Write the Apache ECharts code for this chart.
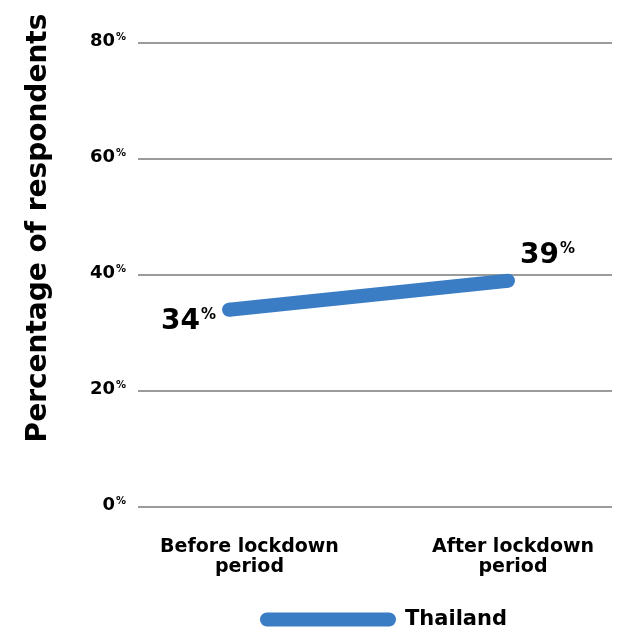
<!DOCTYPE html>
<html><head><meta charset="utf-8">
<script src="https://cdn.jsdelivr.net/npm/echarts@6/dist/echarts.min.js"></script>
<style>html,body{margin:0;padding:0;background:#fff}#c{width:618px;height:635px}</style>
</head><body><div id="c"></div>
<script>
const categories = ['Before lockdown\nperiod', 'After lockdown\nperiod'];
const seriesName = 'Thailand';
const values = [34, 39];
const yTicks = [0, 20, 40, 60, 80];
const yTitle = 'Percentage of respondents';

const FONT = '"DejaVu Sans", sans-serif';
const BLUE = '#3a7dc4';
const chart = echarts.init(document.getElementById('c'), null, {renderer: 'canvas'});
chart.setOption({
  animation: false,
  grid: {left: 138, right: 6, top: 43, bottom: 128, containLabel: false},
  xAxis: [
    {type: 'value', min: -0.3262, max: 1.3728, show: false},
    {type: 'value', min: -0.4231, max: 1.3757, position: 'bottom',
     axisLine: {show: false}, axisTick: {show: false}, splitLine: {show: false},
     axisLabel: {customValues: [0, 1], formatter: v => categories[Math.round(v)],
       fontFamily: FONT, fontWeight: 'bold', fontSize: 19, color: '#000', lineHeight: 20, margin: 30}}
  ],
  yAxis: {
    type: 'value', min: yTicks[0], max: yTicks[yTicks.length - 1], interval: 20,
    axisLine: {show: false}, axisTick: {show: false},
    splitLine: {lineStyle: {color: '#7a7a7a', width: 1.5}},
    axisLabel: {
      margin: 12,
      formatter: v => '{n|' + v + '}{p|%}',
      rich: {
        n: {fontFamily: FONT, fontWeight: 'bold', fontSize: 18, color: '#000', padding: [0, 0, 4, 0]},
        p: {fontFamily: FONT, fontWeight: 'bold', fontSize: 10, color: '#000', verticalAlign: 'top', padding: [0, 0, 10, 1]}
      }
    }
  },
  legend: {
    left: 255, top: 604, itemWidth: 136, itemHeight: 14,
    data: [{name: seriesName, icon: 'path://M7,0 L129,0 A7,7 0 0 1 129,14 L7,14 A7,7 0 0 1 7,0 Z'}],
    textStyle: {fontFamily: FONT, fontWeight: 'bold', fontSize: 21, color: '#000', padding: [0, 0, 0, 4]}
  },
  graphic: [{
    type: 'text', x: 39, y: 228, rotation: Math.PI / 2,
    style: {text: yTitle, fontFamily: FONT, fontWeight: 'bold', fontSize: 28, fill: '#000',
            align: 'center', verticalAlign: 'middle'}
  }],
  series: [{
    type: 'line', name: seriesName, xAxisIndex: 0,
    data: values.map((v, i) => ({
      value: [i, v],
      label: i === 0 ? {position: 'left', distance: 6, offset: [0, 12]}
                     : {position: 'right', distance: 5, offset: [0, -25]}
    })),
    symbol: 'circle', symbolSize: 14,
    itemStyle: {color: BLUE},
    lineStyle: {color: BLUE, width: 14},
    label: {
      show: true,
      formatter: p => '{n|' + p.value[1] + '}{p|%}',
      rich: {
        n: {fontFamily: FONT, fontWeight: 'bold', fontSize: 28, color: '#000'},
        p: {fontFamily: FONT, fontWeight: 'bold', fontSize: 15, color: '#000', verticalAlign: 'top', padding: [0, 0, 11, 1]}
      }
    },
    emphasis: {disabled: true}
  }]
});
</script></body></html>
